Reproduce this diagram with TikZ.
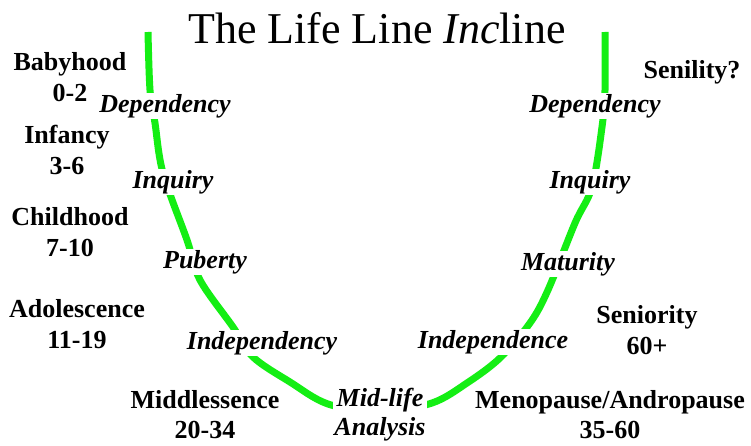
\documentclass[tikz,border=0pt]{standalone}
\usepackage{fontspec}
\setmainfont{Liberation Serif}
\definecolor{lifegreen}{RGB}{20,238,20}
\begin{document}
\begin{tikzpicture}[x=1pt,y=-1pt,
  stage/.style={font=\fontsize{26}{31}\selectfont\bfseries, align=center, inner sep=1pt},
  phase/.style={font=\fontsize{26}{30}\selectfont\bfseries\itshape, align=center, fill=white, inner sep=1pt},
  lifeline/.style={draw=lifegreen, line width=7pt}]
\useasboundingbox (0,0) rectangle (751,446);
\fill[white] (0,0) rectangle (751,446);
% the life line
\draw[lifeline] plot[smooth, tension=0.55] coordinates {
 (148,32) (150,90) (155,123) (163,173) (187,240) (200,280) (233,327) (253,357)
 (290,382) (328,404) (380,412) (432,403) (467,383) (500,358) (530,323)
 (548,290) (575,223) (592,187) (602,127) (605,90) (605,32)};
% title
\node (title) at (377,28) {\fontsize{44}{50}\selectfont The Life Line \textit{Inc}line};
% stages
\node[stage] (baby)   at (70,77)  {Babyhood\\0-2};
\node[stage] (infant) at (67,150) {Infancy\\3-6};
\node[stage] (child)  at (70,232) {Childhood\\7-10};
\node[stage] (adol)   at (77,324) {Adolescence\\11-19};
\node[stage,font=\fontsize{26}{30}\selectfont\bfseries] (middle) at (205,415) {Middlessence\\20-34};
\node[stage,font=\fontsize{26}{30}\selectfont\bfseries] (meno)   at (610,415) {Menopause/Andropause\\35-60};
\node[stage] (senior) at (647,330) {Seniority\\60+};
\node[stage] (senil)  at (692,72)  {Senility?};
% phases
\node[phase] (depL)  at (165,106) {Dependency};
\node[phase] (inqL)  at (173,182) {Inquiry};
\node[phase] (pub)   at (205,262) {Puberty};
\node[phase] (indL)  at (262,343) {Independency};
\node[phase,font=\fontsize{26}{29}\selectfont\bfseries\itshape] (mid) at (380,415) {Mid-life\\Analysis};
\node[phase] (indR)  at (493,342) {Independence};
\node[phase] (mat)   at (568,264) {Maturity};
\node[phase] (inqR)  at (590,182) {Inquiry};
\node[phase] (depR)  at (595,106) {Dependency};
\end{tikzpicture}
\end{document}
